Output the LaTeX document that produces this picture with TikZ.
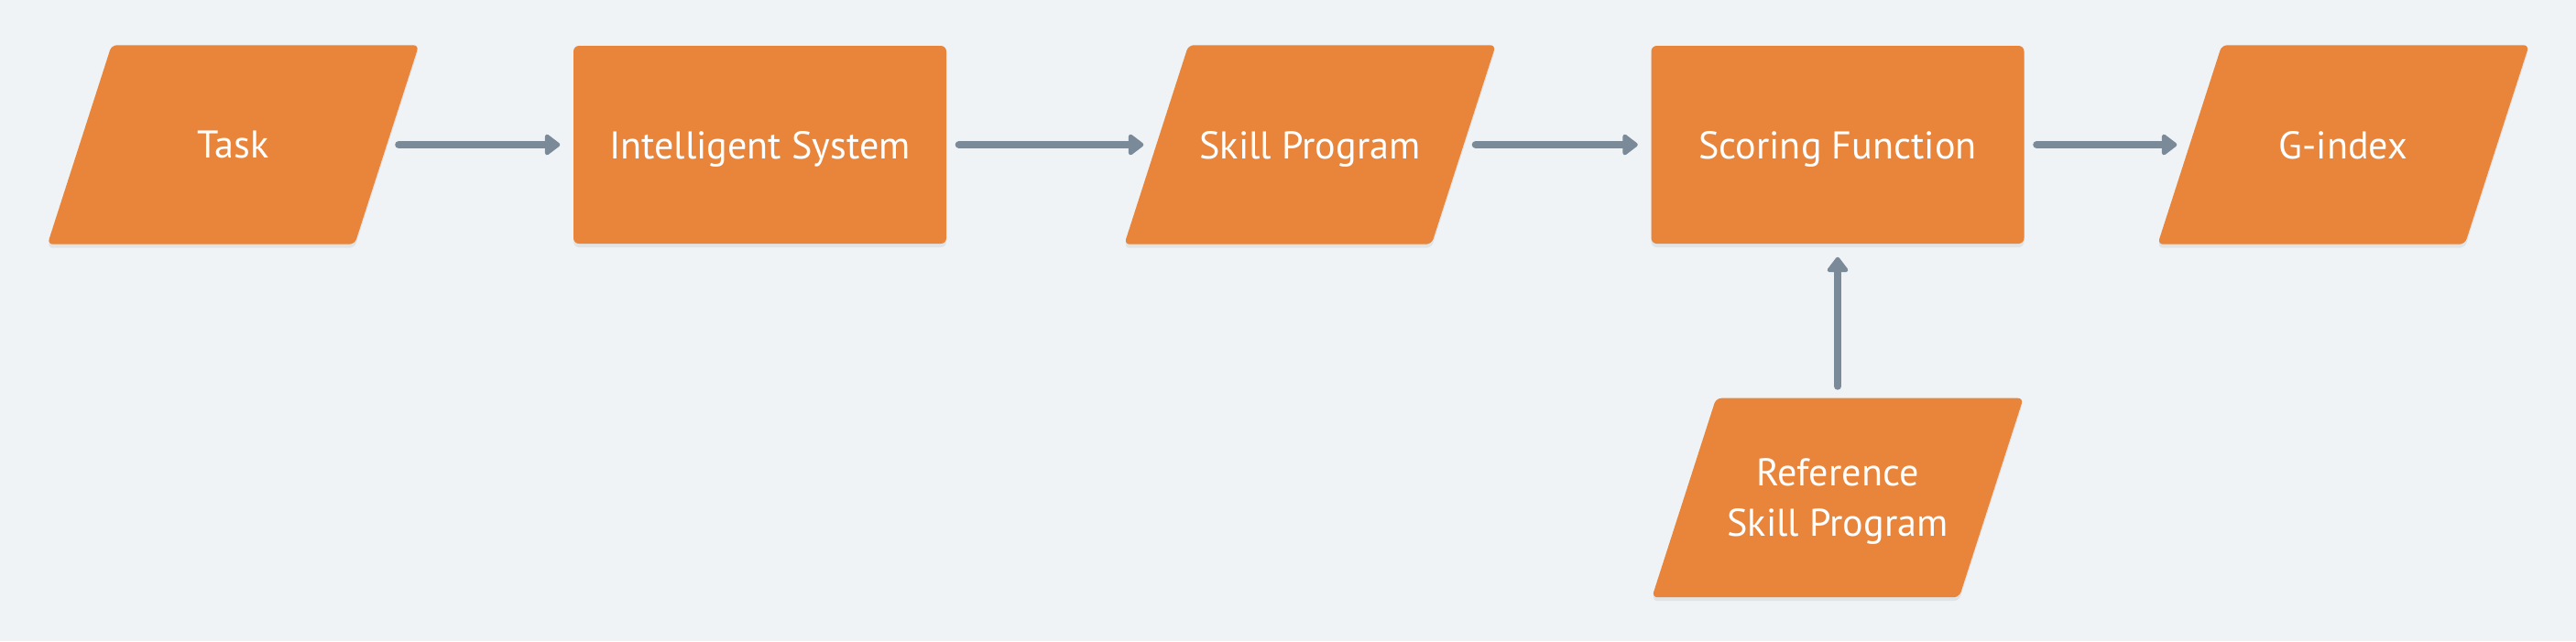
\documentclass[tikz,border=0pt]{standalone}
\usepackage{fontspec}
\setmainfont{PT Sans}
\usetikzlibrary{arrows.meta,positioning,shadows,backgrounds}
\definecolor{boxorange}{RGB}{232,133,58}
\definecolor{paper}{RGB}{239,243,246}
\definecolor{linkgray}{RGB}{122,138,153}
\tikzset{
    %Define standard arrow tip
    >={Triangle[width=0.26cm,length=0.18cm,round]},
    %Define common text look of all boxes
    box/.style={
           rectangle,
           text=white,
           font=\fontsize{12}{15.6}\selectfont,
           minimum height=2.16cm,
           text depth=0pt,
           align=center},
    %Define orange fill with faint shadow
    orange/.style={
           rounded corners=0.06cm,
           fill=boxorange,
           drop shadow={shadow xshift=0cm, shadow yshift=-0.04cm,
                        opacity=0.10, fill=black!60}},
    %Define style for process boxes
    proc/.style={
           box,
           orange,
           minimum width=4.07cm},
    %Define style for data boxes (slanted shape painted behind)
    data/.style={
           box,
           minimum width=3.34cm},
    % Define arrow style
    pil/.style={
           ->,
           line width=0.08cm,
           draw=linkgray,
           line cap=round,
           shorten <=0.13cm,
           shorten >=0.14cm}
}
\begin{document}
\begin{tikzpicture}

% page size
\useasboundingbox (0,0) rectangle (28.12,7);

% main row
\node[data] (task) at (2.545,5.42) {Task};
\node[proc] (system) at (8.295,5.42) {Intelligent System};
\node[data] (skill) at (14.30,5.42) {Skill Program};
\node[proc] (scoring) at (20.06,5.42) {Scoring Function};
\node[data] (gindex) at (25.58,5.42) {G-index};

% reference below scoring
\node[data, below=1.68cm of scoring] (refskill) {Reference\\Skill Program};

% slanted data shapes and background
\begin{scope}[on background layer]
\fill[paper] (0,0) rectangle (28.12,7);
\foreach \n in {task,skill,gindex,refskill}
  \fill[orange] ([xshift=0.35cm]\n.north west) -- ([xshift=0.35cm]\n.north east)
     -- ([xshift=-0.35cm]\n.south east) -- ([xshift=-0.35cm]\n.south west) -- cycle;
\end{scope}

% arrows
\draw[pil] (task) -- (system);
\draw[pil] (system) -- (skill);
\draw[pil] (skill) -- (scoring);
\draw[pil] (scoring) -- (gindex);
\draw[pil] (refskill) -- (scoring);

\end{tikzpicture}
\end{document}
